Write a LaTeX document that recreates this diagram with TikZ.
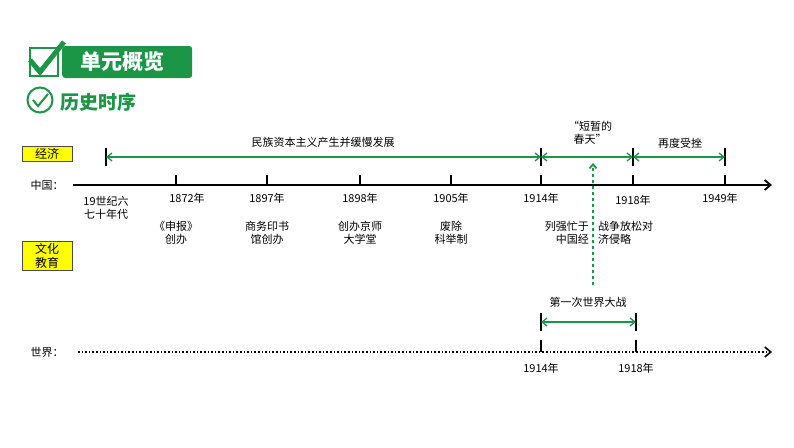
\documentclass[tikz,border=0pt]{standalone}
\usepackage{fontspec}
\setmainfont{Noto Sans CJK SC}
\usetikzlibrary{arrows.meta,positioning}
\definecolor{tgreen}{RGB}{26,150,70}
\definecolor{tyellow}{RGB}{255,255,0}
\tikzstyle{lbl} = [font=\fontsize{11}{13}\selectfont, inner sep=1pt, align=center]
\tikzstyle{tag} = [draw=black!70, fill=tyellow, minimum width=50pt, font=\fontsize{12}{14}\selectfont, align=center, inner sep=2pt]
\tikzstyle{span} = [tgreen, line width=1.3pt, {Straight Barb[length=5pt,width=8pt]}-{Straight Barb[length=5pt,width=8pt]}]
\tikzstyle{bar} = [line width=1.3pt]

\begin{document}
\begin{tikzpicture}[x=1pt,y=-1pt]
    \useasboundingbox (0,0) rectangle (794,447);
    % heading
    \node[fill=tgreen, rounded corners=3pt, minimum width=130pt, minimum height=32pt, anchor=west] (head) at (62,62) {};
    \node[text=white, font=\fontsize{21}{23}\selectfont\bfseries] (headtxt) at (122,62) {单元概览};
    \node[draw=tgreen, fill=white, line width=1.5pt, minimum size=28pt] (chk) at (44,62) {};
    \draw[tgreen, line width=5pt] (30,60) -- (40,72) -- (64,42);
    \node[circle, draw=tgreen, line width=2pt, minimum size=25pt] (circ) at (40,100) {};
    \draw[tgreen, line width=2pt] (33,100) -- (38,106) -- (48,94);
    \node[text=tgreen, font=\fontsize{19}{21}\selectfont\bfseries, anchor=west] (sub) at (57,102) {历史时序};
    % tags
    \node[tag] (econ) at (47,154) {经济};
    \node[tag] (cult) at (47,256) {文化\\教育};
    % axes
    \node[lbl] (cn) at (47,185) {中国：};
    \node[lbl] (wd) at (47,352) {世界：};
    \coordinate (cnS) at (73,185); \coordinate (cnE) at (772,185);
    \coordinate (wdS) at (78,352); \coordinate (wdE) at (772,352);
    \draw[line width=1.8pt, -{Straight Barb[length=6pt,width=10pt]}] (cnS) -- (cnE);
    \draw[line width=1.6pt, dotted, -{Straight Barb[length=6pt,width=10pt]}] (wdS) -- (wdE);
    % ticks on the China line
    \foreach \x in {176,267,360,451,541,633,725}
        \draw[bar] (\x,175) -- (\x,185);
    \foreach \x in {106,541,633,725}
        \draw[bar] (\x,148) -- (\x,166);
    % spans
    \coordinate (s0) at (106,157); \coordinate (s1) at (541,157);
    \coordinate (s2) at (633,157); \coordinate (s3) at (725,157);
    \draw[span] (s0) -- (s1);
    \draw[span] (s1) -- (s2);
    \draw[span] (s2) -- (s3);
    \node[lbl] (slow) at (323,142) {民族资本主义产生并缓慢发展};
    \node[lbl] (spring) at (590,133) {“短暂的\\春天”};
    \node[lbl] (drop) at (680,143) {再度受挫};
    % years
    \node[lbl] (y60) at (106,208) {19世纪六\\七十年代};
    \node[lbl] (y1872) at (187,198) {1872年};
    \node[lbl] (y1897) at (267,198) {1897年};
    \node[lbl] (y1898) at (360,198) {1898年};
    \node[lbl] (y1905) at (451,198) {1905年};
    \node[lbl] (y1914) at (541,198) {1914年};
    \node[lbl] (y1918) at (633,200) {1918年};
    \node[lbl] (y1949) at (720,198) {1949年};
    % events
    \node[lbl] (shenbao) at (176,233) {《申报》\\创办};
    \node[lbl] (press) at (267,233) {商务印书\\馆创办};
    \node[lbl] (univ) at (360,233) {创办京师\\大学堂};
    \node[lbl] (exam) at (451,233) {废除\\科举制};
    \node[lbl, align=right, anchor=east] (busyA) at (590,233) {列强忙于\\中国经};
    \node[lbl, align=left, anchor=west] (busyB) at (597,233) {战争放松对\\济侵略};
    % world war
    \coordinate (warTop) at (593,163); \coordinate (warBot) at (593,285);
    \draw[tgreen, line width=1.8pt, dashed, -{Straight Barb[length=4pt,width=7pt]}] (warBot) -- (warTop);
    \node[lbl] (war) at (588,302) {第一次世界大战};
    \foreach \x in {541,636} {
        \draw[bar] (\x,313) -- (\x,331);
        \draw[bar] (\x,340) -- (\x,352);
    }
    \coordinate (w0) at (541,322); \coordinate (w1) at (636,322);
    \draw[span] (w0) -- (w1);
    \node[lbl] (wy1914) at (541,368) {1914年};
    \node[lbl] (wy1918) at (636,368) {1918年};
\end{tikzpicture}
\end{document}
